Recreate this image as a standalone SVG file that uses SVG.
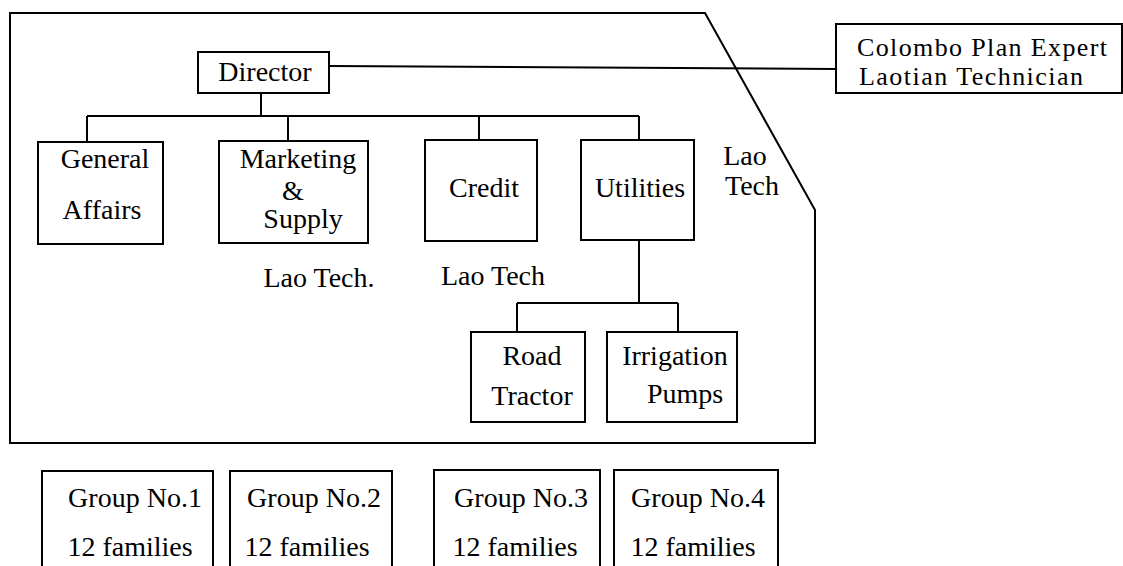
<svg xmlns="http://www.w3.org/2000/svg" width="1123" height="566" viewBox="0 0 1123 566">
<style>
.box{fill:none;stroke:#000;stroke-width:2}
.ln{fill:none;stroke:#000;stroke-width:2}
text{font-family:"Liberation Serif","Times New Roman",serif;font-size:28px;fill:#000;text-anchor:middle}
.st{text-anchor:start;font-size:26px}
</style>
<rect width="1123" height="566" fill="#fff"/>
<g id="boundary">
<path class="ln" d="M10,13 L705,13 L815,210 L815,443 L10,443 Z"/>
</g>
<g id="connectors">
<path class="ln" d="M329,66 L836,69"/>
<path class="ln" d="M261,93 L261,116"/>
<path class="ln" d="M87,116 L639,116"/>
<path class="ln" d="M87,116 L87,142"/>
<path class="ln" d="M288,116 L288,141"/>
<path class="ln" d="M479,116 L479,140"/>
<path class="ln" d="M639,116 L639,140"/>
<path class="ln" d="M639,240 L639,303"/>
<path class="ln" d="M517,303 L678,303"/>
<path class="ln" d="M517,303 L517,332"/>
<path class="ln" d="M678,303 L678,332"/>
</g>
<g id="director">
<rect class="box" x="198" y="52" width="131" height="41"/>
<text x="265" y="81">Director</text>
</g>
<g id="colombo">
<rect class="box" x="836" y="24" width="286" height="69"/>
<text class="st" x="857" y="56" textLength="250" lengthAdjust="spacing">Colombo Plan Expert</text>
<text class="st" x="859" y="85" textLength="224" lengthAdjust="spacing">Laotian Technician</text>
</g>
<g id="general-affairs">
<rect class="box" x="38" y="142" width="125" height="102"/>
<text x="105" y="168">General</text>
<text x="102" y="219">Affairs</text>
</g>
<g id="marketing-supply">
<rect class="box" x="219" y="141" width="149" height="102"/>
<text x="298" y="168">Marketing</text>
<text x="293" y="200">&amp;</text>
<text x="303" y="228">Supply</text>
</g>
<g id="credit">
<rect class="box" x="425" y="140" width="112" height="101"/>
<text x="484" y="197">Credit</text>
</g>
<g id="utilities">
<rect class="box" x="581" y="140" width="113" height="100"/>
<text x="640" y="197">Utilities</text>
</g>
<g id="label-lao-tech-utilities">
<text x="745" y="165">Lao</text>
<text x="752" y="195">Tech</text>
</g>
<g id="label-lao-tech-marketing">
<text x="319" y="287">Lao Tech.</text>
</g>
<g id="label-lao-tech-credit">
<text x="493" y="285">Lao Tech</text>
</g>
<g id="road-tractor">
<rect class="box" x="471" y="332" width="114" height="90"/>
<text x="532" y="365">Road</text>
<text x="532" y="405">Tractor</text>
</g>
<g id="irrigation-pumps">
<rect class="box" x="607" y="332" width="130" height="90"/>
<text x="675" y="365">Irrigation</text>
<text x="685" y="403">Pumps</text>
</g>
<g id="group1">
<rect class="box" x="42" y="471" width="171" height="110"/>
<text x="135" y="507">Group No.1</text>
<text x="130" y="556">12 families</text>
</g>
<g id="group2">
<rect class="box" x="230" y="471" width="162" height="110"/>
<text x="314" y="507">Group No.2</text>
<text x="307" y="556">12 families</text>
</g>
<g id="group3">
<rect class="box" x="434" y="470" width="166" height="110"/>
<text x="521" y="507">Group No.3</text>
<text x="515" y="556">12 families</text>
</g>
<g id="group4">
<rect class="box" x="614" y="470" width="164" height="110"/>
<text x="698" y="507">Group No.4</text>
<text x="693" y="556">12 families</text>
</g>
</svg>
